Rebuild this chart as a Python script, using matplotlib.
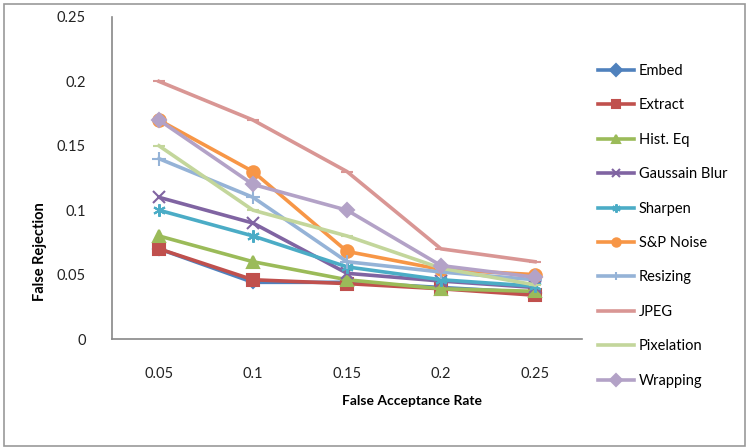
import matplotlib
matplotlib.use("Agg")
import matplotlib.pyplot as plt
from matplotlib.patches import Rectangle

plt.rcParams['font.family'] = ['Lato', 'DejaVu Sans']

far = ["0.05", "0.1", "0.15", "0.2", "0.25"]

embed = [0.070, 0.044, 0.044, 0.040, 0.036]
extract = [0.070, 0.046, 0.043, 0.039, 0.034]
hist_eq = [0.080, 0.060, 0.046, 0.039, 0.037]
gauss_blur = [0.110, 0.090, 0.051, 0.045, 0.040]
sharpen = [0.100, 0.080, 0.056, 0.046, 0.041]
sp_noise = [0.170, 0.130, 0.068, 0.054, 0.050]
resizing = [0.140, 0.110, 0.060, 0.052, 0.046]
jpeg = [0.200, 0.170, 0.130, 0.070, 0.060]
pixelation = [0.150, 0.100, 0.080, 0.055, 0.042]
wrapping = [0.170, 0.120, 0.100, 0.057, 0.048]

series = [
    ("Embed", embed, "#4F81BD", "D", 6),
    ("Extract", extract, "#C0504D", "s", 8),
    ("Hist. Eq", hist_eq, "#9BBB59", "^", 8),
    ("Gaussain Blur", gauss_blur, "#8064A2", "x", 9),
    ("Sharpen", sharpen, "#4BACC6", (6, 2, 0), 9),
    ("S&P Noise", sp_noise, "#F79646", "o", 9),
    ("Resizing", resizing, "#95B3D7", "+", 10),
    ("JPEG", jpeg, "#D99694", "_", 8),
    ("Pixelation", pixelation, "#C3D69B", "_", 8),
    ("Wrapping", wrapping, "#B3A2C7", "D", 7),
]

fig = plt.figure(figsize=(7.49, 4.48), dpi=100)
ax = fig.add_axes([112 / 749, 1 - 339 / 448, 470 / 749, 322 / 448])

x = range(len(far))
for name, vals, col, mk, ms in series:
    ax.plot(x, vals, color=col, lw=2.6, marker=mk, markersize=ms,
            markeredgewidth=1.5, markerfacecolor=col, markeredgecolor=col,
            label=name)

ax.set_xlim(-0.5, len(far) - 0.5)
ax.set_ylim(0, 0.25)
ax.set_xticks(list(x))
ax.set_xticklabels(far)
ax.set_yticks([0, 0.05, 0.1, 0.15, 0.2, 0.25])
ax.set_yticklabels(["0", "0.05", "0.1", "0.15", "0.2", "0.25"])
ax.tick_params(length=0, labelsize=10.5, colors="#222222")
ax.tick_params(axis="x", pad=20)
ax.tick_params(axis="y", pad=19)

for s in ["top", "right"]:
    ax.spines[s].set_visible(False)
for s in ["left", "bottom"]:
    ax.spines[s].set_color("#888888")
    ax.spines[s].set_linewidth(1.2)

fig.text(412 / 749, 1 - 401 / 448, "False Acceptance Rate", ha="center",
         va="center", fontsize=10, fontweight="bold")
fig.text(40 / 749, 1 - 252 / 448, "False Rejection", ha="center",
         va="center", rotation=90, fontsize=10.5, fontweight="bold")

leg = ax.legend(loc="upper left", bbox_to_anchor=(598 / 749, 1 - 64 / 448),
                bbox_transform=fig.transFigure, frameon=False, fontsize=10.5,
                handlelength=2.5, handletextpad=0.3, labelspacing=1.4,
                borderaxespad=0, borderpad=0)
for h in leg.legend_handles:
    h.set_markersize(6)

fig.patches.append(Rectangle((4 / 749, 2 / 448), 741 / 749, 442 / 448,
                             transform=fig.transFigure, fill=False,
                             edgecolor="#999999", lw=1.2))

fig.savefig("out.png", dpi=100)
